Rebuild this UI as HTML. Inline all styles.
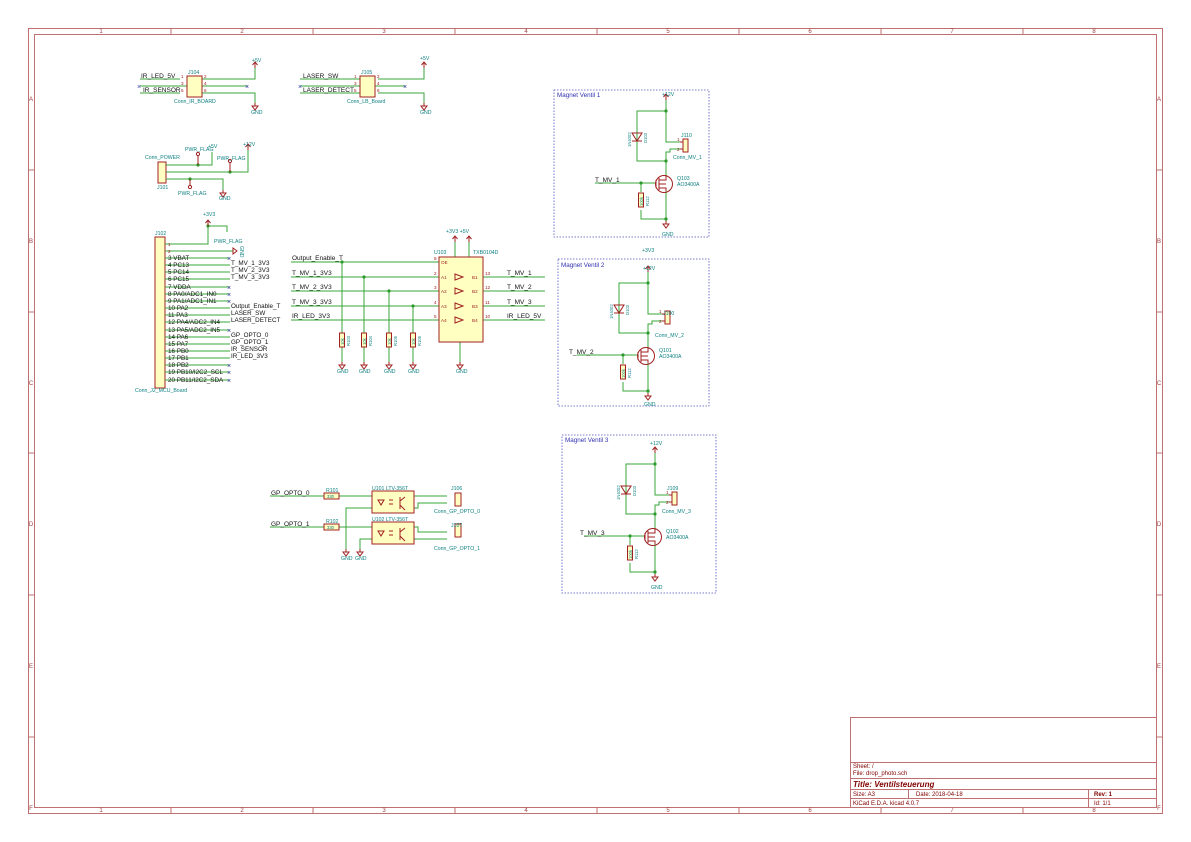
<!DOCTYPE html>
<html><head><meta charset="utf-8"><style>
html,body{margin:0;padding:0;background:#fff}
svg{display:block}
text{font-family:"Liberation Sans",sans-serif}
.w{stroke:#3aa63a;stroke-width:1;fill:none}
.c{stroke:#a02020;stroke-width:1;fill:none}
.cf{stroke:#a02020;stroke-width:1;fill:#ffffc2}
.t{font-size:6.5px;fill:#111}
.r{font-size:5.2px;fill:#108080}
.rs{font-size:4.2px;fill:#108080}
.p{font-size:4.6px;fill:#a02020}
.d{fill:#2a9a2a}
.b{stroke:#5050c0;stroke-width:0.8;stroke-dasharray:1.5,1.5;fill:none}
.fr{stroke:#c07070;fill:none}
.ft{font-size:6px;fill:#a04040}
.xx{font-size:7px;fill:#4040b0}
</style></head><body>
<svg width="1191" height="842" viewBox="0 0 1191 842" xmlns="http://www.w3.org/2000/svg">
<defs>
<g id="gnd"><path class="c" d="M0,0 v3 M-3,3 h6 L0,7 z"/></g>
<g id="pwr"><path class="c" d="M0,0 v-6 M-2.5,-3 L0,-6 L2.5,-3"/></g>
<g id="res"><rect class="cf" x="-2.5" y="0" width="5" height="14"/></g>
<g id="mv">
 <path class="w" d="M666,100 V142 H680 M666,111 H637 V161 H666 M680,149 H670 V152 H666 V175 M595,183 H656 M641,183 V192 M641,210 V219 H666 M666,191 V221"/>
 <circle class="d" cx="666" cy="111" r="1.6"/><circle class="d" cx="666" cy="161" r="1.6"/>
 <circle class="d" cx="641" cy="183" r="1.6"/><circle class="d" cx="666" cy="219" r="1.6"/>
 <use href="#pwr" x="666" y="100"/><use href="#gnd" x="666" y="221"/>
 <path class="c" d="M632,141 h10 M632,133 h10 L637,141 z"/>
 <rect class="cf" x="683" y="139" width="5" height="13"/>
 <path class="c" d="M680,142 h3 M680,149 h3"/>
 <circle class="c" cx="664" cy="184" r="8.5"/>
 <path class="c" d="M656,180 v8 M659,178 v12 M659,180 h7 v-5 M659,188 h7 v3 M659,184 h7"/>
 <use href="#res" x="641" y="193"/>
 <text class="rs" transform="translate(631,147) rotate(-90)">1N4002</text>
 <text class="rs" transform="translate(647,143) rotate(-90)">D103</text>
 <text class="rs" transform="translate(643,206) rotate(-90)">100k</text>
 <text class="rs" transform="translate(649,206) rotate(-90)">R112</text>
 <text class="p" x="677" y="141">1</text><text class="p" x="677" y="151">2</text>
</g>
</defs>
<!-- frame -->
<rect class="fr" x="28.5" y="28.5" width="1134" height="785"/>
<rect class="fr" x="34.5" y="34.5" width="1122" height="773"/>
<g class="fr">
<path d="M171,28v6M313,28v6M455,28v6M597,28v6M739,28v6M881,28v6M1023,28v6M171,807v6M313,807v6M455,807v6M597,807v6M739,807v6M881,807v6M1023,807v6M28,170h6M28,312h6M28,453h6M28,595h6M28,737h6M1156,170h6M1156,312h6M1156,453h6M1156,595h6M1156,737h6"/>
</g>
<g class="ft" text-anchor="middle">
<text x="101" y="33">1</text><text x="242" y="33">2</text><text x="384" y="33">3</text><text x="526" y="33">4</text><text x="668" y="33">5</text><text x="810" y="33">6</text><text x="952" y="33">7</text><text x="1094" y="33">8</text>
<text x="101" y="812">1</text><text x="242" y="812">2</text><text x="384" y="812">3</text><text x="526" y="812">4</text><text x="668" y="812">5</text><text x="810" y="812">6</text><text x="952" y="812">7</text><text x="1094" y="812">8</text>
<text x="31" y="101">A</text><text x="31" y="243">B</text><text x="31" y="385">C</text><text x="31" y="526">D</text><text x="31" y="668">E</text><text x="31" y="810">F</text>
<text x="1159" y="101">A</text><text x="1159" y="243">B</text><text x="1159" y="385">C</text><text x="1159" y="526">D</text><text x="1159" y="668">E</text><text x="1159" y="810">F</text>
</g>
<!-- title block -->
<rect class="fr" x="850.5" y="717.5" width="306" height="90"/>
<path class="fr" d="M850,762.5h306M850,778.5h306M850,789.5h306M850,798.5h306M908.5,789v9M1088.5,789v18"/>
<g style="font-size:6px;fill:#800000">
<text x="853" y="768">Sheet: /</text><text x="853" y="775">File: drop_photo.sch</text>
<text x="853" y="787" style="font-size:8px;font-weight:bold;font-style:italic">Title: Ventilsteuerung</text>
<text x="853" y="796">Size: A3</text><text x="916" y="796">Date: 2018-04-18</text>
<text x="1094" y="796" style="font-weight:bold">Rev: 1</text>
<text x="853" y="805">KiCad E.D.A.  kicad 4.0.7</text><text x="1094" y="805">Id: 1/1</text>
</g>
<!-- J104 -->
<path class="w" d="M140,79H180M140,86H248M140,93H180M200,79H255V62M200,93H255V103M300,79H360M300,86H406M300,93H360M378,79H424V62M378,93H424V103"/>
<rect class="cf" x="187" y="76" width="15" height="21"/>
<rect class="cf" x="360" y="76" width="15" height="21"/>
<use href="#pwr" x="255" y="68"/><use href="#gnd" x="255" y="103"/>
<use href="#pwr" x="424" y="68"/><use href="#gnd" x="424" y="103"/>
<g class="p"><text x="181" y="78">1</text><text x="181" y="85">3</text><text x="181" y="92">5</text><text x="204" y="78">2</text><text x="204" y="85">4</text><text x="204" y="92">6</text>
<text x="354" y="78">1</text><text x="354" y="85">3</text><text x="354" y="92">5</text><text x="377" y="78">2</text><text x="377" y="85">4</text><text x="377" y="92">6</text></g>
<text class="t" x="141" y="78">IR_LED_5V</text><text class="t" x="143" y="92">IR_SENSOR</text>
<text class="r" x="188" y="74">J104</text><text class="r" x="174" y="103">Conn_IR_BOARD</text>
<text class="r" x="252" y="62">+5V</text><text class="r" x="251" y="114">GND</text>
<text class="t" x="303" y="78">LASER_SW</text><text class="t" x="303" y="92">LASER_DETECT</text>
<text class="r" x="361" y="74">J105</text><text class="r" x="347" y="103">Conn_LB_Board</text>
<text class="r" x="420" y="60">+5V</text><text class="r" x="420" y="114">GND</text>
<text class="xx" x="137" y="89">×</text><text class="xx" x="245" y="89">×</text><text class="xx" x="298" y="89">×</text><text class="xx" x="403" y="89">×</text>
<!-- J101 -->
<rect class="cf" x="158" y="162" width="8" height="21"/>
<path class="w" d="M166,165H212V152M166,172H248V150M166,179H223V190"/>
<circle class="d" cx="198" cy="165" r="1.6"/><circle class="d" cx="230" cy="172" r="1.6"/><circle class="d" cx="190" cy="179" r="1.6"/>
<path class="c" d="M198,165v-9M230,172v-9M190,179v6"/>
<circle class="c" cx="198" cy="154" r="1.6"/><circle class="c" cx="230" cy="161" r="1.6"/><circle class="c" cx="190" cy="187" r="1.6"/>
<use href="#pwr" x="248" y="150"/><use href="#gnd" x="223" y="190"/>
<text class="r" x="145" y="159">Conn_POWER</text><text class="r" x="157" y="189">J101</text>
<text class="r" x="185" y="151">PWR_FLAG</text><text class="r" x="217" y="160">PWR_FLAG</text><text class="r" x="178" y="195">PWR_FLAG</text>
<text class="r" x="208" y="148">+5V</text><text class="r" x="243" y="146">+12V</text><text class="r" x="219" y="200">GND</text>
<!-- J102 -->
<rect class="cf" x="155" y="237" width="10" height="151"/>
<path class="w" d="M165,244H208V226M208,226H227V232M165,251H233"/>
<circle class="d" cx="208" cy="226" r="1.6"/><use href="#pwr" x="208" y="226"/>
<path class="c" d="M233,248v6l4,-3z"/>
<text class="r" x="203" y="216">+3V3</text><text class="r" x="214" y="243">PWR_FLAG</text>
<text class="r" x="155" y="235">J102</text><text class="r" x="135" y="392">Conn_J2_MCU_Board</text>
<g class="w">
<path d="M165,258H230M165,265H230M165,272H230M165,279H230M165,287H230M165,294H230M165,301H230M165,308H230M165,315H230M165,322H230M165,330H230M165,337H230M165,344H230M165,351H230M165,358H230M165,365H230M165,372H230M165,380H230"/>
</g>
<g class="xx"><text x="227" y="261">×</text><text x="227" y="290">×</text><text x="227" y="297">×</text><text x="227" y="304">×</text><text x="227" y="333">×</text><text x="227" y="368">×</text><text x="227" y="375">×</text><text x="227" y="383">×</text></g>
<g class="t" style="font-size:6.3px">
<text x="168" y="246" class="p">1</text><text x="168" y="253" class="p">2</text>
<text x="168" y="260">3 VBAT</text><text x="168" y="267">4 PC13</text><text x="168" y="274">5 PC14</text><text x="168" y="281">6 PC15</text><text x="168" y="289">7 VDDA</text><text x="168" y="296">8 PA0/ADC1_IN0</text><text x="168" y="303">9 PA1/ADC1_IN1</text><text x="168" y="310">10 PA2</text><text x="168" y="317">11 PA3</text><text x="168" y="324">12 PA4/ADC2_IN4</text><text x="168" y="332">13 PA5/ADC2_IN5</text><text x="168" y="339">14 PA6</text><text x="168" y="346">15 PA7</text><text x="168" y="353">16 PB0</text><text x="168" y="360">17 PB1</text><text x="168" y="367">18 PB2</text><text x="168" y="374">19 PB10/I2C2_SCL</text><text x="168" y="382">20 PB11/I2C2_SDA</text>
<text x="231" y="265">T_MV_1_3V3</text><text x="231" y="272">T_MV_2_3V3</text><text x="231" y="279">T_MV_3_3V3</text>
<text x="231" y="308">Output_Enable_T</text><text x="231" y="315">LASER_SW</text><text x="231" y="322">LASER_DETECT</text>
<text x="231" y="337">GP_OPTO_0</text><text x="231" y="344">GP_OPTO_1</text><text x="231" y="351">IR_SENSOR</text><text x="231" y="358">IR_LED_3V3</text>
</g>
<text class="r" transform="translate(240,246) rotate(90)">GND</text>
<!-- TXB0104 -->
<path class="w" d="M291,262H439M291,277H439M291,291H439M291,306H439M291,320H439M342,262V333M364,277V333M389,291V333M413,306V333M342,347V362M364,347V362M389,347V362M413,347V362M483,277H545M483,291H545M483,306H545M483,320H545M460,341V362M455,242V257M469,242V257"/>
<circle class="d" cx="342" cy="262" r="1.6"/><circle class="d" cx="364" cy="277" r="1.6"/><circle class="d" cx="389" cy="291" r="1.6"/><circle class="d" cx="413" cy="306" r="1.6"/>
<use href="#res" x="342" y="333"/><use href="#res" x="364" y="333"/><use href="#res" x="389" y="333"/><use href="#res" x="413" y="333"/>
<g class="rs">
<text transform="translate(344,345) rotate(-90)">10k</text><text transform="translate(350,346) rotate(-90)">R103</text>
<text transform="translate(366,345) rotate(-90)">10k</text><text transform="translate(372,346) rotate(-90)">R104</text>
<text transform="translate(391,345) rotate(-90)">10k</text><text transform="translate(397,346) rotate(-90)">R105</text>
<text transform="translate(415,345) rotate(-90)">10k</text><text transform="translate(421,346) rotate(-90)">R106</text>
<text transform="translate(457,273) rotate(-90)">VCCA</text><text transform="translate(471,273) rotate(-90)">VCCB</text>
<text transform="translate(463,339) rotate(-90)">GND</text>
</g>
<use href="#gnd" x="342" y="362"/><use href="#gnd" x="364" y="362"/><use href="#gnd" x="389" y="362"/><use href="#gnd" x="413" y="362"/><use href="#gnd" x="460" y="362"/>
<use href="#pwr" x="455" y="242"/><use href="#pwr" x="469" y="242"/>
<rect class="cf" x="439" y="257" width="44" height="85"/>
<g class="c"><path d="M455,274l8,3l-8,3zM455,288l8,3l-8,3zM455,303l8,3l-8,3zM455,317l8,3l-8,3z"/></g>
<g class="p"><text x="434" y="260">8</text><text x="434" y="275">2</text><text x="434" y="289">3</text><text x="434" y="304">4</text><text x="434" y="318">5</text>
<text x="485" y="275">13</text><text x="485" y="289">12</text><text x="485" y="304">11</text><text x="485" y="318">10</text></g>
<g class="t">
<text x="292" y="260">Output_Enable_T</text><text x="292" y="275">T_MV_1_3V3</text><text x="292" y="289">T_MV_2_3V3</text><text x="292" y="304">T_MV_3_3V3</text><text x="292" y="318">IR_LED_3V3</text>
<text x="507" y="275">T_MV_1</text><text x="507" y="289">T_MV_2</text><text x="507" y="304">T_MV_3</text><text x="507" y="318">IR_LED_5V</text>
</g>
<text class="r" x="434" y="254">U103</text><text class="r" x="473" y="254">TXB0104D</text>
<text class="r" x="446" y="233">+3V3 +5V</text>
<g class="r"><text x="337" y="373">GND</text><text x="359" y="373">GND</text><text x="384" y="373">GND</text><text x="408" y="373">GND</text><text x="456" y="373">GND</text></g>
<g class="p"><text x="441" y="264">OE</text><text x="441" y="279">A1</text><text x="441" y="293">A2</text><text x="441" y="308">A3</text><text x="441" y="322">A4</text>
<text x="472" y="279">B1</text><text x="472" y="293">B2</text><text x="472" y="308">B3</text><text x="472" y="322">B4</text></g>
<!-- opto -->
<path class="w" d="M270,496H324M339,496H372M270,527H324M339,527H372M372,508H346V549M372,539H360V549M414,496H447M414,508H418V503H447M414,527H418V532H447M414,539H447"/>
<rect class="cf" x="324" y="493" width="15" height="6"/><rect class="cf" x="324" y="524" width="15" height="6"/>
<text class="rs" x="327" y="498">330</text><text class="rs" x="327" y="529">330</text>
<rect class="cf" x="372" y="491" width="42" height="22"/><rect class="cf" x="372" y="522" width="42" height="22"/>
<rect class="cf" x="455" y="493" width="6" height="13"/><rect class="cf" x="455" y="524" width="6" height="13"/>
<path class="c" d="M378,500l3,5l3,-5zM378,531l3,5l3,-5zM389,500h4M389,504h4M389,531h4M389,535h4M400,497v12M400,528v12M400,501l5,-4M400,505l5,5M400,532l5,-4M400,536l5,5"/>
<use href="#gnd" x="346" y="549"/><use href="#gnd" x="360" y="549"/>
<g class="t"><text x="271" y="495">GP_OPTO_0</text><text x="271" y="526">GP_OPTO_1</text></g>
<g class="r"><text x="326" y="492">R101</text><text x="326" y="523">R102</text><text x="372" y="490">U101 LTV-356T</text><text x="372" y="521">U102 LTV-356T</text>
<text x="451" y="490">J106</text><text x="451" y="527">J107</text><text x="434" y="513">Conn_GP_OPTO_0</text><text x="434" y="550">Conn_GP_OPTO_1</text>
<text x="341" y="560">GND</text><text x="355" y="560">GND</text></g>
<!-- Magnet Ventil -->
<rect class="b" x="554" y="90" width="155" height="147"/>
<text x="557" y="97" style="font-size:6.3px;fill:#3030b0">Magnet Ventil 1</text>
<use href="#mv"/>
<g class="t"><text x="595" y="182">T_MV_1</text></g>
<g class="r"><text x="662" y="96">+12V</text><text x="681" y="137">J110</text><text x="673" y="159">Conn_MV_1</text><text x="677" y="180">Q103</text><text x="677" y="186">AO3400A</text><text x="662" y="236">GND</text></g>
<rect class="b" x="558" y="259" width="151" height="147"/>
<text x="561" y="267" style="font-size:6.3px;fill:#3030b0">Magnet Ventil 2</text>
<g transform="translate(-18,172)"><use href="#mv"/></g>
<g class="t"><text x="569" y="354">T_MV_2</text></g>
<g class="r"><text x="642" y="252">+3V3</text><text x="643" y="270">+12V</text><text x="663" y="315">J100</text><text x="655" y="337">Conn_MV_2</text><text x="659" y="352">Q101</text><text x="659" y="358">AO3400A</text><text x="644" y="406">GND</text></g>
<rect class="b" x="562" y="435" width="154" height="158"/>
<text x="565" y="442" style="font-size:6.3px;fill:#3030b0">Magnet Ventil 3</text>
<g transform="translate(-11,353)"><use href="#mv"/></g>
<g class="t"><text x="580" y="535">T_MV_3</text></g>
<g class="r"><text x="650" y="445">+12V</text><text x="667" y="490">J109</text><text x="662" y="513">Conn_MV_3</text><text x="666" y="533">Q102</text><text x="666" y="539">AO3400A</text><text x="651" y="589">GND</text></g>
</svg>
</body></html>
